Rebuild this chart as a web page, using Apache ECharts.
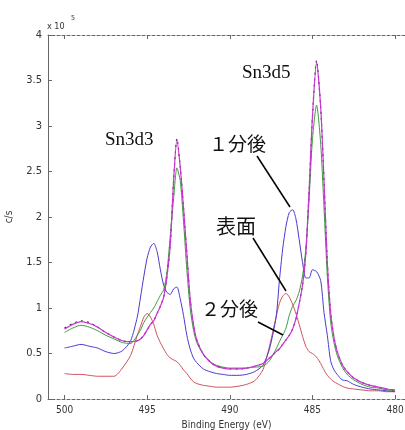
<!DOCTYPE html>
<html>
<head>
<meta charset="utf-8">
<script src="https://cdn.jsdelivr.net/npm/echarts@6/dist/echarts.min.js"></script>
<style>
html,body{margin:0;padding:0;background:#fff;}
#chart{width:405px;height:430px;}
</style>
</head>
<body>
<div id="chart"></div>
<script>
// Binding energy grid (eV)
var energy = [500,499.5,499,498.5,498,497.5,497,496.5,496,495.6,495.4,495.2,495.0,494.8,494.6,494.4,494.2,494.0,493.8,493.6,493.4,493.2,493.0,492.8,492.6,492.4,492.2,492.0,491.6,491.2,490.8,490.4,490.0,489.5,489.0,488.5,488.0,487.6,487.2,487.0,486.8,486.6,486.4,486.2,486.0,485.8,485.6,485.4,485.2,485.0,484.75,484.5,484.3,484.1,483.9,483.7,483.5,483.2,482.9,482.5,482.0,481.5,481.0,480.5,480.0];
// intensities (x 10^5 c/s)
var surface = [0.28,0.27,0.27,0.26,0.25,0.25,0.25,0.34,0.48,0.70,0.80,0.90,0.94,0.90,0.82,0.70,0.62,0.55,0.49,0.45,0.43,0.41,0.37,0.32,0.28,0.23,0.19,0.17,0.15,0.14,0.13,0.13,0.13,0.14,0.16,0.20,0.32,0.58,0.90,1.05,1.13,1.16,1.12,1.04,0.94,0.82,0.69,0.58,0.52,0.50,0.46,0.39,0.32,0.26,0.22,0.19,0.17,0.14,0.12,0.11,0.10,0.09,0.09,0.08,0.08];
var after1 = [0.56,0.58,0.60,0.58,0.56,0.52,0.50,0.53,0.64,0.90,1.12,1.35,1.55,1.67,1.71,1.62,1.42,1.25,1.17,1.15,1.21,1.23,1.10,0.92,0.70,0.55,0.45,0.40,0.33,0.30,0.28,0.27,0.26,0.26,0.27,0.30,0.37,0.55,0.90,1.30,1.65,1.90,2.05,2.08,1.98,1.75,1.50,1.33,1.33,1.42,1.40,1.30,0.95,0.70,0.42,0.32,0.27,0.21,0.20,0.16,0.13,0.11,0.10,0.09,0.08];
var after2 = [0.73,0.78,0.81,0.79,0.75,0.70,0.66,0.62,0.61,0.70,0.76,0.84,0.90,0.95,1.00,1.07,1.14,1.20,1.40,1.80,2.20,2.54,2.40,1.95,1.42,1.00,0.76,0.62,0.49,0.41,0.37,0.35,0.34,0.34,0.34,0.35,0.36,0.42,0.55,0.63,0.70,0.78,0.92,1.02,1.08,1.18,1.35,1.65,2.20,2.85,3.23,2.80,2.10,1.35,0.85,0.62,0.48,0.35,0.27,0.21,0.16,0.13,0.12,0.10,0.09];
var after3 = [0.77,0.82,0.85,0.83,0.79,0.73,0.68,0.64,0.63,0.64,0.66,0.70,0.76,0.82,0.86,0.94,1.02,1.12,1.35,1.70,2.40,2.85,2.55,2.10,1.60,1.10,0.82,0.65,0.49,0.41,0.36,0.34,0.33,0.33,0.34,0.36,0.39,0.45,0.52,0.55,0.60,0.65,0.70,0.77,0.88,1.05,1.25,1.60,2.30,3.10,3.70,3.20,2.40,1.50,0.95,0.68,0.52,0.38,0.30,0.23,0.18,0.15,0.13,0.11,0.10];
var after4 = [0.78,0.83,0.86,0.84,0.79,0.73,0.68,0.64,0.63,0.64,0.66,0.70,0.76,0.82,0.86,0.94,1.02,1.12,1.35,1.70,2.40,2.86,2.55,2.10,1.60,1.10,0.82,0.65,0.49,0.41,0.36,0.34,0.33,0.33,0.34,0.36,0.39,0.45,0.52,0.55,0.60,0.65,0.70,0.77,0.88,1.05,1.25,1.60,2.30,3.10,3.72,3.20,2.40,1.50,0.95,0.68,0.52,0.38,0.30,0.23,0.18,0.15,0.13,0.11,0.10];
var xTicks = [480,485,490,495,500];

function pairs(vals){ return energy.map(function(e,i){ return [e, vals[i]]; }); }

var chart = echarts.init(document.getElementById('chart'));
var axisGray = '#666';
var lblFont = {color:'#333', fontSize:10, fontFamily:'"Liberation Sans Narrow","DejaVu Sans Condensed",Arial,sans-serif'};
function ser(name, vals, color, type, z, w){
  return {name:name, type:'line', data:pairs(vals), showSymbol:false, smooth:0.25,
    lineStyle:{color:color, width:w||1, type:type||'solid'}, z:z, animation:false, xAxisIndex:0, yAxisIndex:0};
}
chart.setOption({
  animation:false,
  backgroundColor:'#fff',
  grid:{left:48, right:0, top:35, bottom:31, containLabel:false, outerBoundsMode:'none'},
  xAxis:[{
    type:'value', inverse:true, min:479.4, max:501, position:'bottom',
    axisLine:{show:true, lineStyle:{color:axisGray, width:1, type:[3,2]}},
    axisTick:{show:true, inside:true, length:4, customValues:xTicks, lineStyle:{color:axisGray}},
    axisLabel:{show:true, customValues:xTicks, margin:6, color:lblFont.color, fontSize:lblFont.fontSize, fontFamily:lblFont.fontFamily},
    splitLine:{show:false},
    name:'Binding Energy (eV)', nameLocation:'middle', nameGap:21,
    nameTextStyle:{color:'#333', fontSize:10, fontFamily:lblFont.fontFamily}
  },{
    type:'value', inverse:true, min:479.4, max:501, position:'top',
    axisLine:{show:true, lineStyle:{color:axisGray, width:1, type:[3,2]}},
    axisTick:{show:true, inside:true, length:4, customValues:xTicks, lineStyle:{color:axisGray}},
    axisLabel:{show:false}, splitLine:{show:false}
  }],
  yAxis:[{
    type:'value', min:0, max:4, interval:0.5,
    axisLine:{show:true, lineStyle:{color:axisGray, width:1}},
    axisTick:{show:true, inside:true, length:4, lineStyle:{color:axisGray}},
    axisLabel:{margin:6, color:lblFont.color, fontSize:11, fontFamily:lblFont.fontFamily},
    splitLine:{show:false},
    name:'c/s', nameLocation:'middle', nameGap:34, nameRotate:90,
    nameTextStyle:{color:'#333', fontSize:10, fontFamily:lblFont.fontFamily}
  }],
  series:[
    ser('表面', surface, '#d0505a', 'solid', 2),
    ser('1分後', after1, '#4a3ad0', 'solid', 3),
    ser('2分後', after2, '#3f9a3f', 'solid', 4),
    ser('4', after4, '#333', [2,4], 5, 1.2),
    ser('3', after3, '#c834d4', 'solid', 6, 1.2)
  ],
  graphic:[
    {type:'text', left:47, top:22, style:{text:'x 10', fill:'#333', fontSize:9, fontFamily:lblFont.fontFamily}},
    {type:'text', left:71, top:15, style:{text:'5', fill:'#333', fontSize:7, fontFamily:lblFont.fontFamily}},
    {type:'text', left:105, top:131, style:{text:'Sn3d3', fill:'#111', fontSize:19, fontFamily:'"Liberation Serif","DejaVu Serif",serif'}},
    {type:'text', left:242, top:64, style:{text:'Sn3d5', fill:'#111', fontSize:19, fontFamily:'"Liberation Serif","DejaVu Serif",serif'}},
    {type:'text', left:209, top:134, style:{text:'１分後', fill:'#111', fontSize:19, fontFamily:'"Noto Sans CJK JP",sans-serif'}},
    {type:'text', left:216, top:216, style:{text:'表面', fill:'#111', fontSize:20, fontFamily:'"Noto Sans CJK JP",sans-serif'}},
    {type:'text', left:201, top:299, style:{text:'２分後', fill:'#111', fontSize:19, fontFamily:'"Noto Sans CJK JP",sans-serif'}},
    {type:'line', shape:{x1:257, y1:156, x2:290, y2:207}, style:{stroke:'#000', lineWidth:1.5}, z:10},
    {type:'line', shape:{x1:253, y1:238, x2:286, y2:291}, style:{stroke:'#000', lineWidth:1.5}, z:10},
    {type:'line', shape:{x1:258, y1:322, x2:283, y2:335}, style:{stroke:'#000', lineWidth:1.5}, z:10}
  ]
});
</script>
</body>
</html>
